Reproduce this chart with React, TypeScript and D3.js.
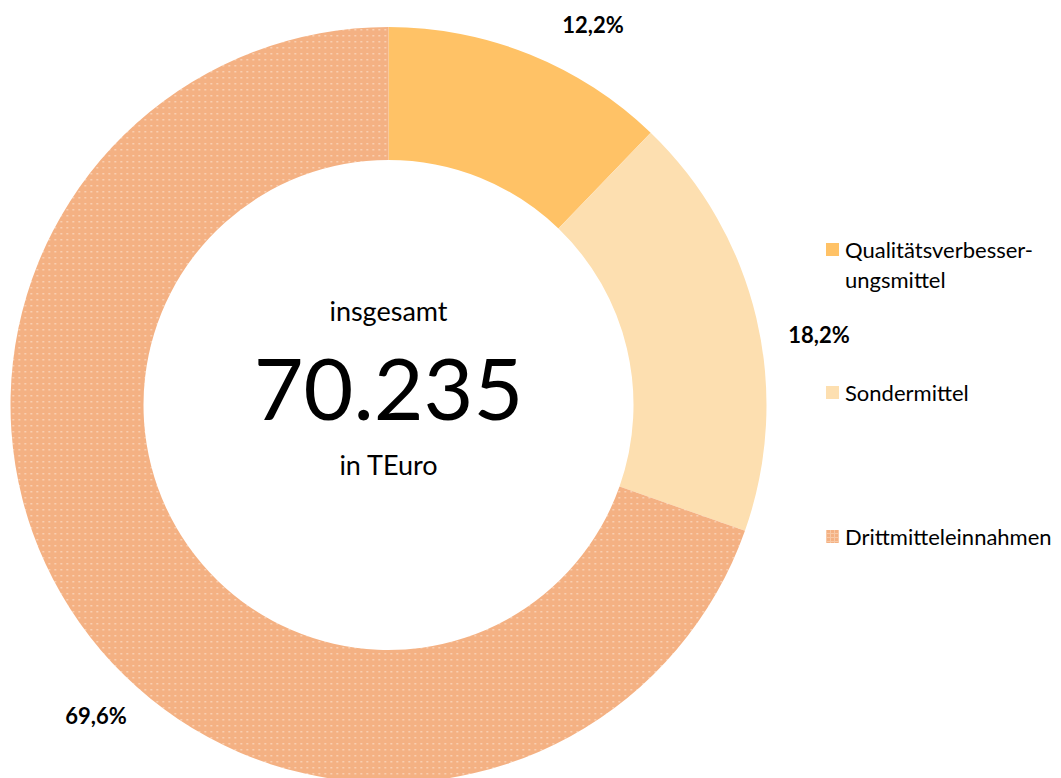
import React from 'react'
import * as d3 from 'd3'

const categories = ['Qualitätsverbesser-\nungsmittel', 'Sondermittel', 'Drittmitteleinnahmen']
const shares = [12.2, 18.2, 69.6]
const shareLabels = ['12,2%', '18,2%', '69,6%']
const total = '70.235'

const width = 1061
const height = 778
const cx = 388.5
const cy = 405
const outerR = 378
const innerR = 245
const font = 'Lato, "Open Sans", sans-serif'

const colors = ['#FFC266', '#FDDFB0', 'url(#dots)']
const legendColors = ['#FFC266', '#FDDFB0', 'url(#grid)']

// label positions (center of text) chosen per slice like the original
const labelPos = [
  [593, 25],
  [819, 335],
  [96, 716]
]
const legendY = [250, 393, 537]

export default function App() {
  const pie = d3.pie<number>().sort(null).value(d => d)
  const arcs = pie(shares)
  const arc = d3.arc<d3.PieArcDatum<number>>().innerRadius(innerR).outerRadius(outerR)

  return (
    <svg width={width} height={height} style={{position: 'absolute', left: 0, top: 0, background: 'white'}}>
      <defs>
        <pattern id="dots" width="6" height="6" patternUnits="userSpaceOnUse">
          <rect width="6" height="6" fill="#F4B183" />
          <rect x="2" y="2" width="1.5" height="1.5" fill="#FBD9C0" />
        </pattern>
        <pattern id="grid" width="4" height="4" patternUnits="userSpaceOnUse">
          <rect width="4" height="4" fill="#F4B183" />
          <rect x="0" y="0" width="4" height="1" fill="#F8C9A6" />
          <rect x="0" y="0" width="1" height="4" fill="#F8C9A6" />
        </pattern>
      </defs>
      <g transform={`translate(${cx},${cy})`}>
        {arcs.map((a, i) => (
          <path key={i} d={arc(a) || ''} fill={colors[i]} />
        ))}
      </g>

      <g fontFamily={font} textAnchor="middle" fill="#000">
        <text x={cx} y={321} fontSize={27}>insgesamt</text>
        <text x={cx} y={420} fontSize={86}>{total}</text>
        <text x={cx} y={475} fontSize={27}>in TEuro</text>
      </g>

      <g fontFamily={font} fontWeight="bold" fontSize={22} textAnchor="middle">
        {shareLabels.map((l, i) => (
          <text key={i} x={labelPos[i][0]} y={labelPos[i][1]} dy="0.35em">{l}</text>
        ))}
      </g>

      <g fontFamily={font} fontSize={22}>
        {categories.map((c, i) => (
          <g key={i} transform={`translate(826,${legendY[i]})`}>
            <rect x={0} y={-7} width={13} height={13} fill={legendColors[i]} />
            {c.split('\n').map((line, j) => (
              <text key={j} x={19} y={j * 30} dy="0.35em">{line}</text>
            ))}
          </g>
        ))}
      </g>
    </svg>
  )
}
